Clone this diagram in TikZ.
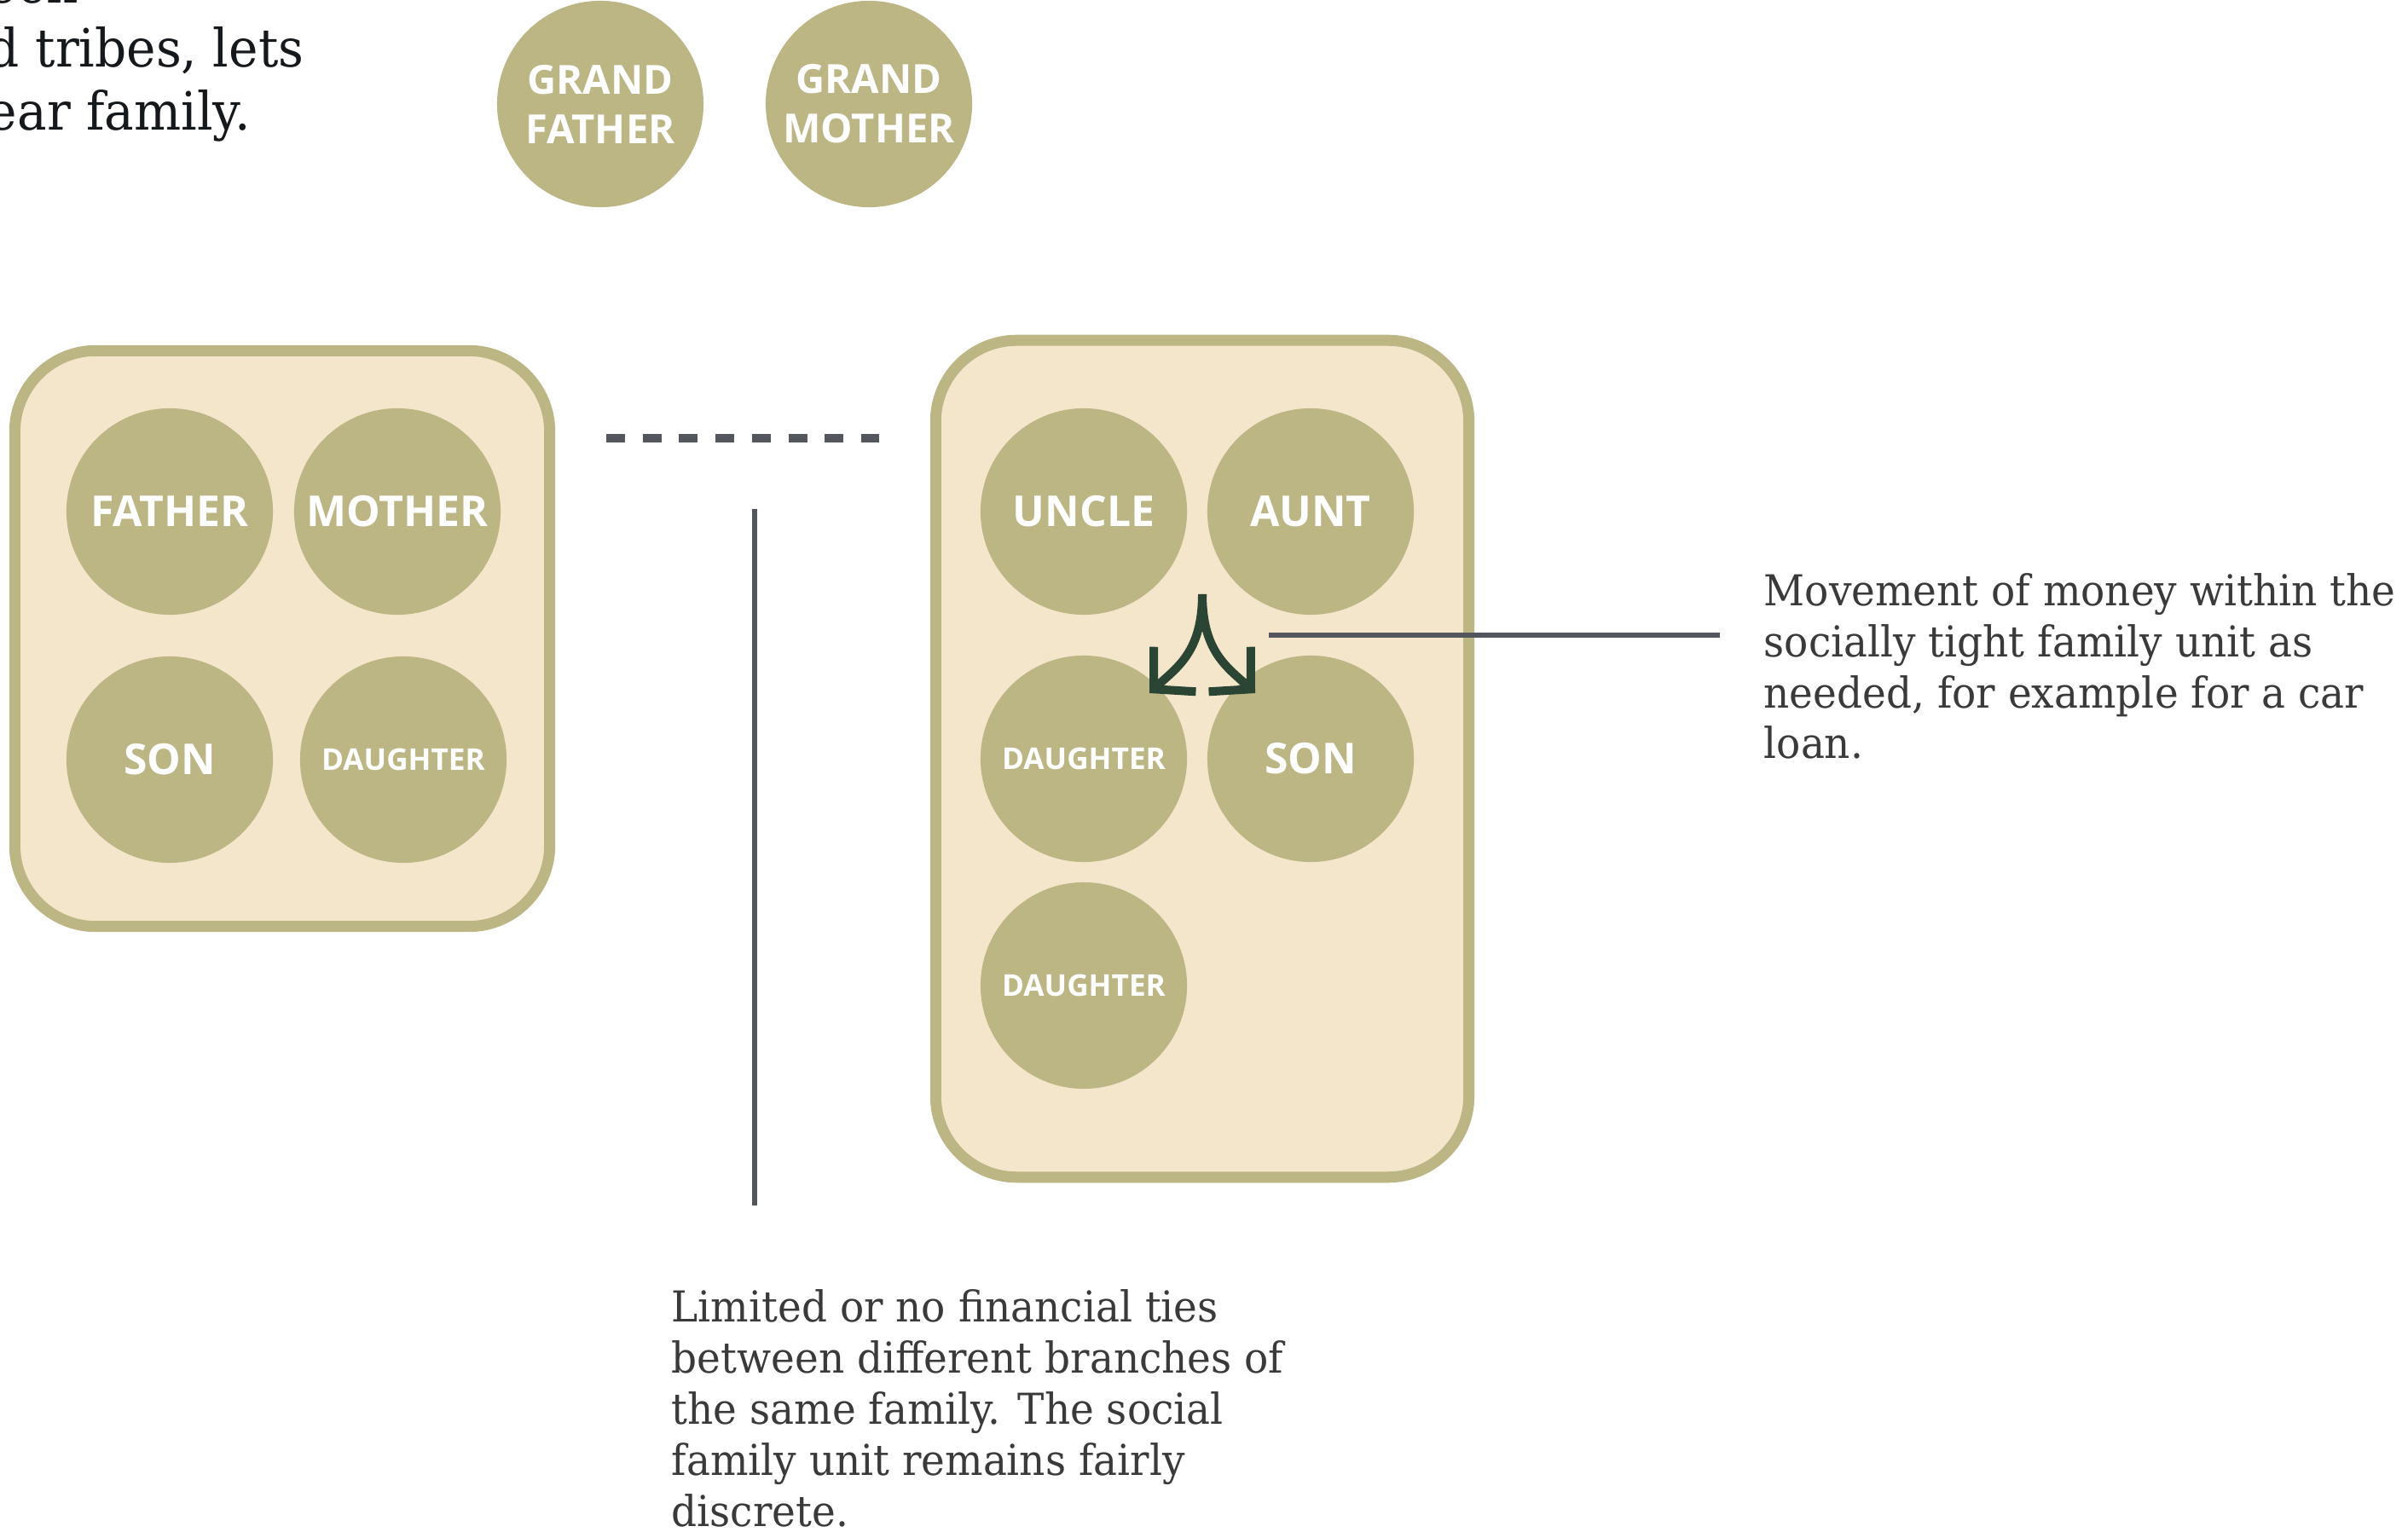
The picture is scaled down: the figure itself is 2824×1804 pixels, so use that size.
\documentclass[tikz,border=0pt]{standalone}
\usepackage{fontspec}
\setmainfont{DejaVu Serif}[FakeStretch=0.94]
\newfontfamily\badgefont{Open Sans}
\usetikzlibrary{arrows.meta}

\definecolor{khaki}{HTML}{BCB584}
\definecolor{cream}{HTML}{F3E6CB}
\definecolor{leadgray}{HTML}{53575D}
\definecolor{moneygreen}{HTML}{2B4535}
\definecolor{notegray}{HTML}{3A3A3A}
\definecolor{introblack}{HTML}{16191B}

\begin{document}
\begin{tikzpicture}[
    x=0.01cm, y=-0.01cm,
    familyunit/.style={
        rectangle,
        rounded corners=0.95cm,
        draw=khaki,
        line width=0.13cm,
        fill=cream,
        inner sep=0pt
    },
    person/.style={
        circle,
        fill=khaki,
        minimum size=2.42cm,
        inner sep=0pt,
        text=white,
        align=center,
        font=\badgefont\bfseries\fontsize{14.2}{17}\selectfont
    },
    longname/.style={font=\badgefont\bfseries\fontsize{10}{12}\selectfont},
    elder/.style={font=\badgefont\bfseries\fontsize{13.4}{16.5}\selectfont},
    leader/.style={draw=leadgray, line width=0.055cm},
    tie/.style={draw=leadgray, line width=0.1cm, dash pattern=on 0.22cm off 0.207cm},
    money/.style={draw=moneygreen, line width=0.1cm,
        -{Straight Barb[length=0.34cm,width=0.72cm]}},
    note/.style={align=left, inner sep=0pt, text=notegray,
        font=\fontsize{14.2}{17}\selectfont}
]
\useasboundingbox (0,0) rectangle (2824,1804);
\clip (0,0) rectangle (2824,1804);

% Intro text (cut off at the left edge)
\node[align=left, inner sep=0pt, text=introblack, anchor=base east,
      font=\fontsize{17.6}{21.3}\selectfont] (intro) at (357,153)
      {een\\d tribes, lets\\ear family.};

% Grandparents
\node[person, elder] (gfather) at (704,122) {GRAND\\FATHER};
\node[person, elder] (gmother) at (1019,122) {GRAND\\MOTHER};

% Left family unit
\node[familyunit, minimum width=6.27cm, minimum height=6.75cm] (leftunit) at (331,749) {};
\node[person] (father) at (199,600) {FATHER};
\node[person] (mother) at (466,600) {MOTHER};
\node[person] (son1) at (199,891) {SON};
\node[person, longname] (dau1) at (473,891) {DAUGHTER};

% Right family unit
\node[familyunit, minimum width=6.25cm, minimum height=9.81cm] (rightunit) at (1410,890) {};
\node[person] (uncle) at (1271,600) {UNCLE};
\node[person] (aunt) at (1537,600) {AUNT};
\node[person, longname] (dau2) at (1271,890) {DAUGHTER};
\node[person] (son2) at (1537,890) {SON};
\node[person, longname] (dau3) at (1271,1156) {DAUGHTER};

% Money flow inside the unit
\coordinate (split) at (1410,697);
\coordinate (tipL) at (1348,813);
\coordinate (tipR) at (1472,813);
\draw[money] (split) .. controls (1410,765) and (1380,783) .. (tipL);
\draw[money] (split) .. controls (1410,765) and (1440,783) .. (tipR);

% Loose tie between branches
\coordinate (tieA) at (711,514.5);
\coordinate (tieB) at (1031,514.5);
\draw[tie] (tieA) -- (tieB);

% Leader lines
\coordinate (gapTop) at (885,597);
\coordinate (gapEnd) at (885,1414);
\draw[leader] (gapTop) -- (gapEnd);
\coordinate (moveA) at (1488,745);
\coordinate (moveB) at (2017,745);
\draw[leader] (moveA) -- (moveB);

% Notes (base anchor sits on the last line)
\node[note, anchor=base west] (movenote) at (2068,890)
    {Movement of money within the\\socially tight family unit as\\needed, for example for a car\\loan.};
\node[note, anchor=base west] (gapnote) at (787,1790)
    {Limited or no financial ties\\between different branches of\\the same family. The social\\family unit remains fairly\\discrete.};

\end{tikzpicture}
\end{document}
